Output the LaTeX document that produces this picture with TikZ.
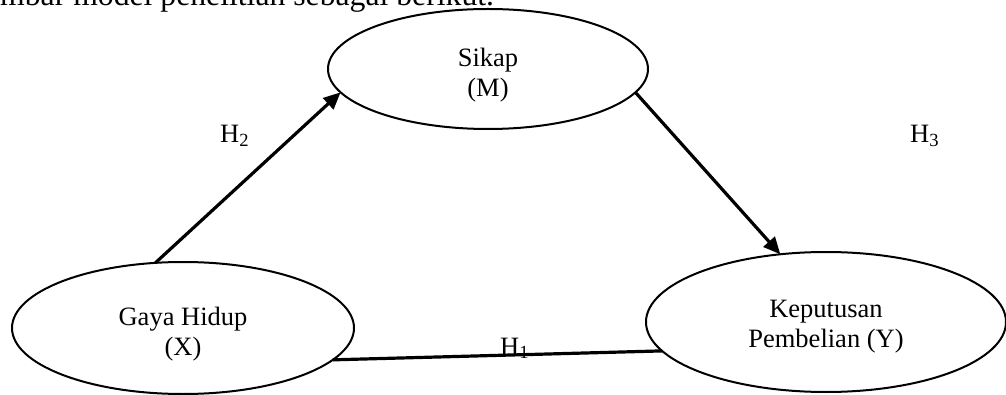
\documentclass[tikz,border=0pt]{standalone}
\usepackage{fontspec}
\setmainfont{Liberation Serif}
\usetikzlibrary{shapes.geometric,arrows.meta}
\begin{document}
\begin{tikzpicture}[x=1pt,y=1pt,
  var/.style={draw,line width=2pt,ellipse,inner sep=0pt,outer sep=0pt},
  vtext/.style={inner sep=0pt,align=center,font=\fontsize{26.5}{30}\selectfont},
  conn/.style={line width=3.2pt},
  arr/.style={conn,-{Triangle[length=17pt,width=15pt]}},
  hlab/.style={inner sep=0pt,anchor=base west,font=\fontsize{26.5}{30}\selectfont},
  body/.style={inner sep=0pt,anchor=base west,font=\fontsize{31.7}{36}\selectfont}]
\useasboundingbox (0,0) rectangle (1006,-395);
\node[body] (intro) at (0,-6) {mbar model penelitian sebagai berikut.};
\node[var,minimum width=320pt,minimum height=120pt] (s) at (488,-69) {};
\node[var,minimum width=342pt,minimum height=132pt] (g) at (183,-328) {};
\node[var,minimum width=360pt,minimum height=140pt] (k) at (826,-322) {};
\node[vtext] (st) at ([yshift=-6pt]s.center) {Sikap\\(M)};
\node[vtext] (gt) at ([yshift=-6pt]g.center) {Gaya Hidup\\(X)};
\node[vtext] (kt) at ([yshift=-5pt]k.center) {Keputusan\\Pembelian (Y)};
\draw[arr] (g.113) -- (s.189);
\draw[arr] (s.-9) -- (k.124);
\draw[conn] (g.-12) -- (k.190);
\node[hlab] (h2) at (220,-143) {H\textsubscript{2}};
\node[hlab] (h3) at (910,-143) {H\textsubscript{3}};
\node[hlab] (h1) at (500,-355) {H\textsubscript{1}};
\end{tikzpicture}
\end{document}
